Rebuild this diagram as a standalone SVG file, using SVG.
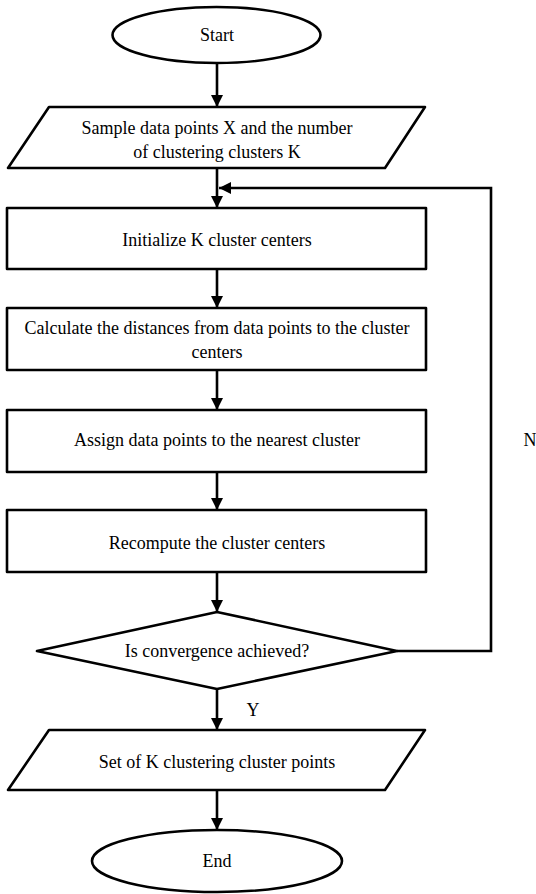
<svg xmlns="http://www.w3.org/2000/svg" width="536" height="894" viewBox="0 0 536 894">
<style>
.s{fill:#fff;stroke:#000;stroke-width:2.6;stroke-linejoin:round}
.c{fill:none;stroke:#000;stroke-width:2.6}
text{font-family:"Liberation Serif","Times New Roman",serif;font-size:18px;fill:#000;text-anchor:middle}
</style>
<defs>
<marker id="ah" viewBox="0 0 12 12" refX="12" refY="6" markerWidth="12" markerHeight="12" markerUnits="userSpaceOnUse" orient="auto">
<path d="M0,0 L12,6 L0,12 Z" fill="#000"/>
</marker>
</defs>
<rect width="536" height="894" fill="#fff"/>
<g id="connectors">
<line class="c" x1="217" y1="63" x2="217" y2="107" marker-end="url(#ah)"/>
<line class="c" x1="217" y1="168" x2="217" y2="208" marker-end="url(#ah)"/>
<polyline class="c" points="397,651 491,651 491,188 219,188" marker-end="url(#ah)"/>
<line class="c" x1="217" y1="269" x2="217" y2="308" marker-end="url(#ah)"/>
<line class="c" x1="217" y1="370" x2="217" y2="410" marker-end="url(#ah)"/>
<line class="c" x1="217" y1="472" x2="217" y2="510" marker-end="url(#ah)"/>
<line class="c" x1="217" y1="572" x2="217" y2="612" marker-end="url(#ah)"/>
<line class="c" x1="217" y1="689" x2="217" y2="730" marker-end="url(#ah)"/>
<line class="c" x1="217" y1="790" x2="217" y2="830" marker-end="url(#ah)"/>
<text x="530" y="446">N</text>
<text x="253" y="716">Y</text>
</g>
<g id="start">
<ellipse class="s" cx="216.5" cy="35" rx="104" ry="28"/>
<text x="217" y="41">Start</text>
</g>
<g id="input">
<polygon class="s" points="49,107 425,107 385,168 8,168"/>
<text x="217" y="134">Sample data points X and the number</text>
<text x="217" y="158">of clustering clusters K</text>
</g>
<g id="init">
<rect class="s" x="7" y="208" width="419" height="61"/>
<text x="217" y="246">Initialize K cluster centers</text>
</g>
<g id="dist">
<rect class="s" x="7" y="308" width="419" height="62"/>
<text x="217" y="334">Calculate the distances from data points to the cluster</text>
<text x="217" y="358">centers</text>
</g>
<g id="assign">
<rect class="s" x="7" y="410" width="419" height="62"/>
<text x="217" y="446">Assign data points to the nearest cluster</text>
</g>
<g id="recompute">
<rect class="s" x="7" y="510" width="419" height="62"/>
<text x="217" y="549">Recompute the cluster centers</text>
</g>
<g id="decision">
<polygon class="s" points="217,612 397,651 217,689 37,651"/>
<text x="217" y="657">Is convergence achieved?</text>
</g>
<g id="output">
<polygon class="s" points="49,730 425,730 385,790 8,790"/>
<text x="217" y="768">Set of K clustering cluster points</text>
</g>
<g id="end">
<ellipse class="s" cx="217" cy="861" rx="125" ry="31"/>
<text x="217" y="867">End</text>
</g>
</svg>
